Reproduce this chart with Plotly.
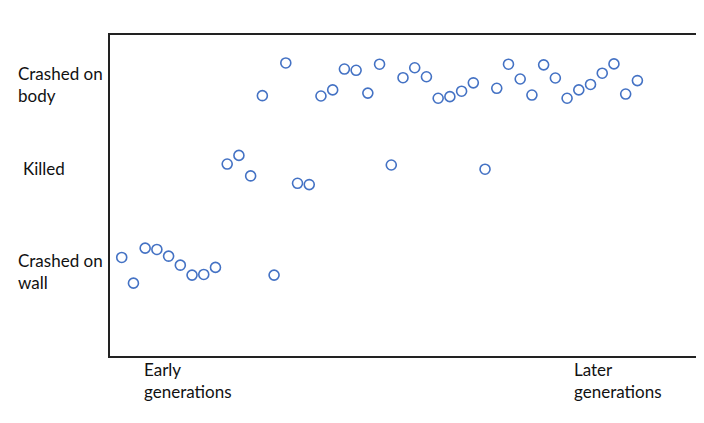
import plotly.graph_objects as go

# generation index (evenly spaced runs, early -> late)
generation = list(range(1, 46))

# outcome position on a 0-100 scale (low = crashed on wall, mid = killed, high = crashed on body)
outcome = [
    30.7, 22.7, 33.6, 33.2, 31.1, 28.3, 25.2, 25.4, 27.6, 59.8,
    62.5, 56.1, 81.1, 25.2, 91.3, 53.8, 53.4, 81.0, 82.9, 89.4,
    89.0, 81.9, 90.9, 59.5, 86.7, 89.8, 87.0, 80.3, 80.8, 82.5,
    85.1, 58.2, 83.4, 90.9, 86.3, 81.3, 90.7, 86.6, 80.3, 82.9,
    84.6, 88.1, 91.0, 81.6, 85.8,
]

y_labels = ["Crashed on<br>body", "Killed", "Crashed on<br>wall"]
x_labels = ["Early<br>generations", "Later<br>generations"]

# page body adds an 8px margin, so the figure is a bit smaller than the window
OFF = 8
W, H = 704 - OFF, 423 - OFF
L, T = 110 - OFF, 35 - OFF
R = W - (698 - OFF)
B = H - (356 - OFF)

fig = go.Figure()

fig.add_trace(
    go.Scatter(
        x=generation, y=outcome, mode="markers",
        marker=dict(symbol="circle-open", size=10, color="#4472C4",
                    line=dict(width=1.6, color="#4472C4")),
        showlegend=False,
    )
)

font = dict(family="Lato, 'Open Sans', sans-serif", size=17, color="#111111")

def px_x(p):
    return (p - OFF - L) / (W - L - R)

def px_y(p):
    return (H - B - (p - OFF)) / (H - T - B)

# left-side category labels (pixel positions)
for text, x0, yc in zip(y_labels, [16, 21, 16], [84.5, 168, 271.5]):
    fig.add_annotation(text=text, xref="paper", yref="paper",
                       x=px_x(x0), y=px_y(yc), xanchor="left", yanchor="middle",
                       align="left", showarrow=False, font=font)

# bottom labels
for text, x0 in zip(x_labels, [142, 574]):
    fig.add_annotation(text=text, xref="paper", yref="paper",
                       x=px_x(x0), y=px_y(380), xanchor="left", yanchor="middle",
                       align="left", showarrow=False, font=font)

fig.update_xaxes(range=[0, 50], showgrid=False, zeroline=False, showticklabels=False,
                 ticks="", showline=True, mirror=True, linecolor="#222", linewidth=2)
fig.update_yaxes(range=[0, 100], showgrid=False, zeroline=False, showticklabels=False,
                 ticks="", showline=True, mirror=True, linecolor="#222", linewidth=2)

fig.update_layout(
    width=W, height=H,
    margin=dict(l=L, r=R, t=T, b=B),
    plot_bgcolor="white", paper_bgcolor="white",
)

fig.write_html("out.html")
